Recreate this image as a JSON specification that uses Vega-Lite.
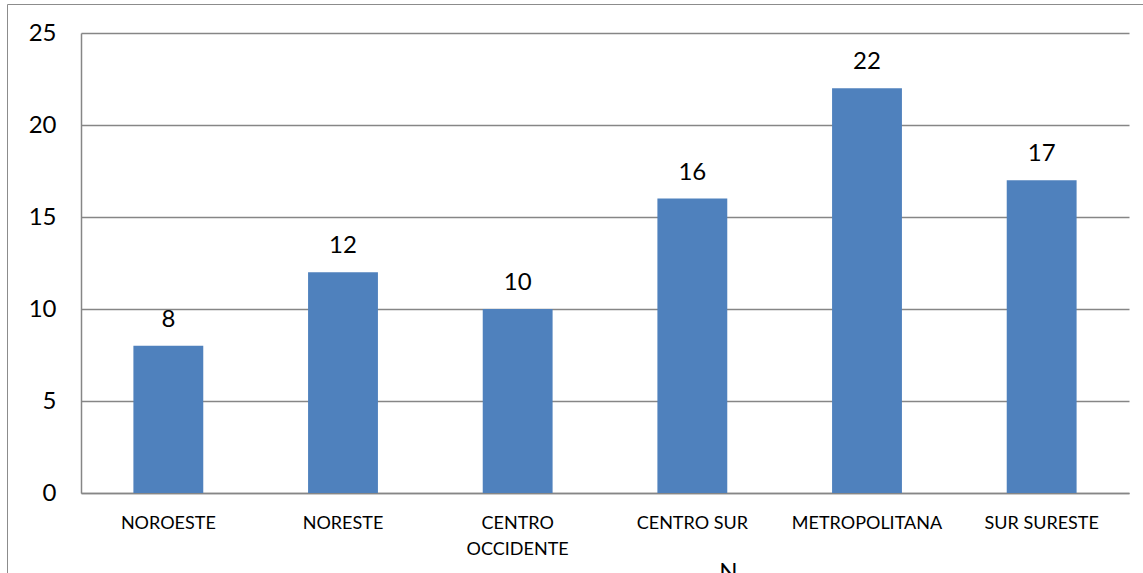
{
  "$schema": "https://vega.github.io/schema/vega-lite/v6.json",
  "autosize": "none",
  "padding": {"left": 7, "top": 4, "right": -20, "bottom": -20},
  "width": 1156,
  "height": 589,
  "background": "white",
  "config": {
    "view": {"stroke": "#8c8c8c", "strokeWidth": 1},
    "font": "Lato"
  },
  "data": {
    "values": [
      {"region": "NOROESTE", "value": 8},
      {"region": "NORESTE", "value": 12},
      {"region": "CENTRO OCCIDENTE", "value": 10},
      {"region": "CENTRO SUR", "value": 16},
      {"region": "METROPOLITANA", "value": 22},
      {"region": "SUR SURESTE", "value": 17}
    ]
  },
  "encoding": {
    "x": {
      "field": "region",
      "type": "nominal",
      "sort": null,
      "scale": {"range": [74, 1122], "paddingInner": 0.6, "paddingOuter": 0.3},
      "axis": {
        "orient": "bottom",
        "offset": -100,
        "title": "N",
        "titleX": 721,
        "titleY": 86,
        "titleFontSize": 24,
        "titleFontWeight": "normal",
        "titleBaseline": "alphabetic",
        "titleColor": "black",
        "labelAngle": 0,
        "labelFontSize": 18,
        "labelPadding": 21,
        "labelLineHeight": 26,
        "labelColor": "black",
        "labelLimit": 0,
        "labelExpr": "datum.label == 'CENTRO OCCIDENTE' ? ['CENTRO', 'OCCIDENTE'] : datum.label",
        "ticks": false,
        "domainColor": "#868686",
        "domainWidth": 1.5,
        "grid": false
      }
    },
    "y": {
      "field": "value",
      "type": "quantitative",
      "scale": {"domain": [0, 25], "range": [489, 29], "nice": false},
      "axis": {
        "orient": "left",
        "offset": -74,
        "title": null,
        "values": [0, 5, 10, 15, 20, 25],
        "ticks": false,
        "labelPadding": 25,
        "labelFontSize": 24,
        "labelColor": "black",
        "domainColor": "#868686",
        "domainWidth": 1.5,
        "grid": true,
        "gridColor": "#868686",
        "gridWidth": 1.5
      }
    }
  },
  "layer": [
    {"mark": {"type": "bar", "color": "#4F81BD"}},
    {
      "mark": {"type": "text", "dy": -19, "baseline": "alphabetic", "fontSize": 24, "color": "black"},
      "encoding": {"text": {"field": "value", "type": "quantitative"}}
    }
  ]
}
